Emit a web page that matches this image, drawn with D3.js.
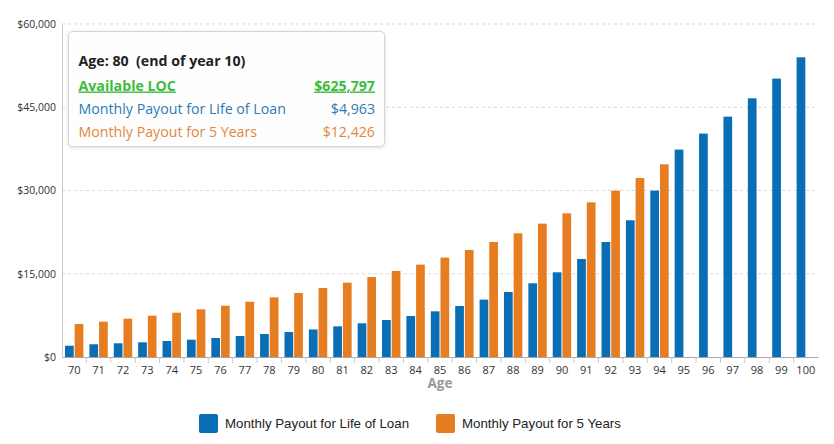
<!DOCTYPE html>
<html>
<head>
<meta charset="utf-8">
<script src="https://cdn.jsdelivr.net/npm/d3@7.9.0/dist/d3.min.js"></script>
<style>
  body { margin: 0; background: #fff; }
  svg { display: block; font-family: 'Open Sans', sans-serif; }
</style>
</head>
<body>
<svg id="chart" width="834" height="444"></svg>
<script>
const ages = d3.range(70, 101).map(String);

// monthly payout for life of loan, ages 70..100
const lifeOfLoan = [
  2030, 2290, 2470, 2650, 2880, 3120, 3420, 3780, 4140, 4500,
  4963, 5530, 6070, 6670, 7380, 8230, 9190, 10340, 11710, 13280,
  15260, 17660, 20720, 24630, 29980, 37370, 40250, 43310, 46610, 50160,
  54000
];

// monthly payout for 5 years, ages 70..94
const fiveYears = [
  5950, 6360, 6900, 7440, 7980, 8590, 9240, 9960, 10750, 11530,
  12426, 13390, 14410, 15500, 16640, 17910, 19280, 20720, 22290, 24030,
  25890, 27870, 29980, 32250, 34720
];

const yTicks = [0, 15000, 30000, 45000, 60000];

const seriesNames = ['Monthly Payout for Life of Loan', 'Monthly Payout for 5 Years'];
const colors = ['#0a6eb7', '#e67d21'];

const tooltipRows = [
  { label: 'Available LOC', value: '$625,797', color: '#3dbb3d', bold: true, underline: true },
  { label: 'Monthly Payout for Life of Loan', value: '$4,963', color: '#2b7bb5' },
  { label: 'Monthly Payout for 5 Years', value: '$12,426', color: '#e0883a' },
];

const svg = d3.select('#chart');
const area = { left: 62, right: 818, top: 24, bottom: 357 };

const x0 = d3.scaleBand().domain(ages).range([area.left, area.right]).padding(0);
const x1 = d3.scaleBand().domain([0, 1]).range([3, x0.bandwidth() - 3]).paddingInner(0.1);
const y = d3.scaleLinear().domain([0, 60000]).range([area.bottom, area.top]);

// gridlines
svg.append('g')
  .selectAll('line')
  .data(yTicks.filter((d) => d > 0))
  .join('line')
  .attr('x1', area.left)
  .attr('x2', area.right)
  .attr('y1', (d) => y(d))
  .attr('y2', (d) => y(d))
  .attr('stroke', '#d8d8d8')
  .attr('stroke-dasharray', '3,3');

// y axis
const yAxis = svg.append('g')
  .attr('transform', `translate(${area.left},0)`)
  .call(d3.axisLeft(y).tickValues(yTicks).tickSize(0).tickPadding(6)
    .tickFormat((d) => '$' + d3.format(',')(d)));
yAxis.select('.domain').attr('stroke', '#c8c8c8');
yAxis.selectAll('text').attr('fill', '#333').style('font-size', '10.5px')
  .style('font-family', "'Open Sans', sans-serif");

// bars
const rows = ages.map((age, i) => ({ age, vals: [lifeOfLoan[i], fiveYears[i]] }));

svg.append('g')
  .selectAll('g')
  .data(rows)
  .join('g')
  .attr('transform', (d) => `translate(${x0(d.age)},0)`)
  .selectAll('rect')
  .data((d) => d.vals.map((v, k) => ({ k, v })).filter((e) => e.v != null))
  .join('rect')
  .attr('x', (d) => x1(d.k))
  .attr('width', x1.bandwidth())
  .attr('y', (d) => y(d.v))
  .attr('height', (d) => y(0) - y(d.v))
  .attr('fill', (d) => colors[d.k]);

// x axis
const xAxis = svg.append('g')
  .attr('transform', `translate(0,${area.bottom})`)
  .call(d3.axisBottom(x0).tickSize(0).tickPadding(9));
xAxis.select('.domain').attr('stroke', '#a8a8a8');
xAxis.selectAll('text').attr('fill', '#333').style('font-size', '11px')
  .style('font-family', "'Open Sans', sans-serif");
xAxis.selectAll('.sep')
  .data(ages.slice(1))
  .join('line')
  .attr('class', 'sep')
  .attr('x1', (d) => x0(d))
  .attr('x2', (d) => x0(d))
  .attr('y1', 0)
  .attr('y2', 6)
  .attr('stroke', '#c8c8c8');

svg.append('text')
  .attr('x', (area.left + area.right) / 2)
  .attr('y', 388)
  .attr('text-anchor', 'middle')
  .attr('fill', '#999')
  .style('font-size', '13.5px')
  .style('font-weight', 'bold')
  .text('Age');

// legend
const legend = svg.append('g').style('font-family', "'Liberation Sans', Arial, sans-serif");
const legendX = [199, 436];
seriesNames.forEach((name, i) => {
  const g = legend.append('g').attr('transform', `translate(${legendX[i]},414)`);
  g.append('rect').attr('width', 19).attr('height', 19).attr('rx', 2).attr('fill', colors[i]);
  g.append('text').attr('x', 26).attr('y', 14).attr('fill', '#222')
    .style('font-size', '13.3px').text(name);
});

// tooltip
const tip = svg.append('g').attr('transform', 'translate(68.5,31.5)');
tip.append('rect')
  .attr('width', 316)
  .attr('height', 115)
  .attr('rx', 4)
  .attr('fill', 'rgba(255,255,255,0.97)')
  .attr('stroke', '#d4d4d4')
  .style('filter', 'drop-shadow(0px 1px 2px rgba(0,0,0,0.12))');
tip.append('text')
  .attr('x', 10)
  .attr('y', 34)
  .attr('fill', '#222')
  .style('font-size', '14.2px')
  .style('font-weight', 'bold')
  .style('white-space', 'pre')
  .text('Age: 80  (end of year 10)');
tooltipRows.forEach((r, i) => {
  const yy = 59 + i * 23.3;
  [['label', 10, 'start'], ['value', 306.5, 'end']].forEach(([key, xx, anchor]) => {
    tip.append('text')
      .attr('x', xx)
      .attr('y', yy)
      .attr('text-anchor', anchor)
      .attr('fill', r.color)
      .style('font-size', '14.2px')
      .style('font-weight', r.bold ? 'bold' : 'normal')
      .style('text-decoration', r.underline ? 'underline' : 'none')
      .text(r[key]);
  });
});
</script>
</body>
</html>
